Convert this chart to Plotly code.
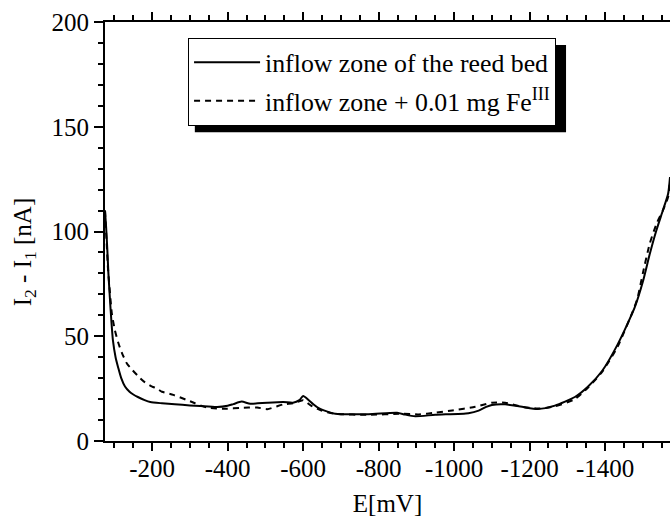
import plotly.graph_objects as go

# Data
E_inflow = [-75, -78, -81, -84, -88, -92, -96, -103, -110, -118, -128, -140, -150, -162,
            -180, -195, -226, -260, -300, -327, -372, -400, -415, -437, -460, -505, -547,
            -573, -590, -600, -615, -627, -640, -655, -685, -773, -849, -870, -897, -950,
            -1038, -1065, -1085, -1100, -1135, -1180, -1222, -1267, -1320, -1355, -1392,
            -1433, -1478, -1500, -1518, -1535, -1553, -1567, -1572]
I_inflow = [110, 102, 92, 80, 68, 57, 48, 40, 35, 30, 26, 23.5, 22.2, 21,
            19.5, 18.6, 18, 17.5, 17, 16.7, 16.2, 16.8, 17.6, 18.8, 17.8, 18.3, 18.6,
            18.3, 19.5, 21.5, 19.5, 17.5, 15.8, 14.6, 13, 12.8, 13.5, 12.6, 11.8, 12.5,
            13.3, 14.5, 16.3, 17.2, 17.5, 16.3, 15.3, 16.9, 21, 26, 33.4,
            46, 63.5, 76, 89, 100, 110, 118, 126]

E_fe = [-75, -79, -83, -88, -93, -101, -110, -120, -133, -147, -168, -181, -200, -213,
        -226, -256, -300, -345, -398, -433, -478, -505, -548, -574, -600, -620, -647,
        -685, -773, -862, -906, -950, -995, -1056, -1100, -1135, -1180, -1222, -1267,
        -1320, -1355, -1392, -1433, -1478, -1487, -1500, -1518, -1537, -1553, -1567, -1572]
I_fe = [110, 96, 82, 71, 61, 53, 47, 42, 37, 34, 30, 28, 26, 25,
        23.5, 22, 19, 16, 15.4, 15.8, 16, 15.2, 17.5, 18, 19.5, 17, 14.6,
        13, 12.5, 13, 12.7, 13.5, 14.6, 16.3, 18.3, 18.3, 16.3, 15.5, 16.5,
        20, 25.5, 33, 45, 64, 69, 80, 94, 104, 110, 116.5, 124]

x_tickvals = [-200, -400, -600, -800, -1000, -1200, -1400]
x_ticktext = ["-200", "-400", "-600", "-800", "-1000", "-1200", "-1400"]
y_tickvals = [0, 50, 100, 150, 200]

FONT = "Liberation Serif"

fig = go.Figure()
fig.add_trace(go.Scatter(x=E_inflow, y=I_inflow, mode="lines",
                         name="inflow zone of the reed bed", legendgroup="a",
                         line=dict(color="black", width=2, shape="spline", smoothing=0.6)))
fig.add_trace(go.Scatter(x=E_fe, y=I_fe, mode="lines",
                         name="inflow zone + 0.01 mg Fe<sup>III</sup>", legendgroup="b",
                         line=dict(color="black", width=2, dash="6px,5px",
                                   shape="spline", smoothing=0.6)))

# legend shadow
fig.add_shape(type="rect", xref="paper", yref="paper",
              x0=0.159, x1=0.816, y0=0.737, y1=0.945,
              fillcolor="black", line=dict(width=0), layer="above")

# y-axis title
fig.add_annotation(text="I<sub>2</sub> - I<sub>1</sub> [nA]", textangle=-90,
                   xref="paper", yref="paper", x=-0.143, y=0.451,
                   xanchor="center", yanchor="middle", showarrow=False,
                   font=dict(family=FONT, size=25, color="black"))

fig.update_layout(
    width=670, height=522,
    margin=dict(l=105, r=0, t=22, b=81),
    paper_bgcolor="white", plot_bgcolor="white",
    font=dict(family=FONT, size=25, color="black"),
    showlegend=True,
    legend=dict(x=0.147, y=0.962, xanchor="left", yanchor="top",
                bgcolor="white", bordercolor="black", borderwidth=1,
                font=dict(family=FONT, size=25.8), itemwidth=66,
                tracegroupgap=2),
    xaxis=dict(range=[-75, -1572], tickvals=x_tickvals, ticktext=x_ticktext,
               automargin=False, ticklabelstandoff=-4,
               ticks="outside", ticklen=8, tickwidth=1.5, tickcolor="black",
               minor=dict(dtick=50, tick0=0, ticks="outside", ticklen=5,
                          tickwidth=1.5, tickcolor="black"),
               showline=True, linecolor="black", linewidth=2, mirror="allticks",
               showgrid=False, zeroline=False,
               tickfont=dict(family=FONT, size=25),
               title=dict(text="E[mV]", font=dict(family=FONT, size=25), standoff=13)),
    yaxis=dict(range=[0, 200], tickvals=y_tickvals, automargin=False,
               ticks="outside", ticklen=9, tickwidth=1.5, tickcolor="black",
               minor=dict(dtick=10, tick0=0, ticks="outside", ticklen=5,
                          tickwidth=1.5, tickcolor="black"),
               showline=True, linecolor="black", linewidth=2, mirror=False,
               showgrid=False, zeroline=False,
               tickfont=dict(family=FONT, size=25)),
)

fig.write_html("out.html", config={"displayModeBar": False},
               post_script="document.body.style.margin='0';document.body.style.overflow='hidden';")
